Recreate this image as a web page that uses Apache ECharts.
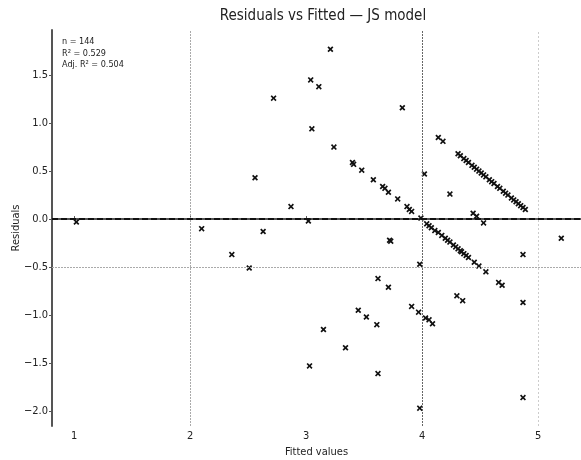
<!DOCTYPE html>
<html>
<head>
<meta charset="utf-8">
<script src="https://cdn.jsdelivr.net/npm/echarts@6/dist/echarts.min.js"></script>
<style>
  html, body { margin: 0; padding: 0; background: #fff; }
  #main { width: 581px; height: 460px; }
</style>
</head>
<body>
<div id="main"></div>
<script>
// fitted values (x) and residuals (y)
var fitted = [
  1.02, 2.10, 2.36, 2.51, 2.56, 2.63, 2.72, 2.87, 3.02, 3.04, 3.05, 3.03, 3.11, 3.15, 3.21, 3.24,
  3.34, 3.40, 3.41, 3.45, 3.48, 3.52, 3.58, 3.61, 3.62, 3.62, 3.66, 3.68, 3.71, 3.71, 3.72, 3.73,
  3.79, 3.83, 3.87, 3.89, 3.91, 3.91, 3.97, 3.98, 3.98, 3.99, 4.02, 4.03, 4.04, 4.06, 4.09, 4.14,
  4.18, 4.24, 4.30, 4.35, 4.44, 4.47, 4.53, 4.87, 4.87, 4.87, 5.20,
  4.06, 4.08, 4.11, 4.14, 4.17, 4.20, 4.22, 4.24, 4.27, 4.29, 4.31, 4.33, 4.34, 4.36, 4.38, 4.40,
  4.45, 4.49, 4.55, 4.66, 4.69,
  4.31, 4.33, 4.36, 4.38, 4.40, 4.43, 4.45, 4.47, 4.49, 4.51, 4.53, 4.55, 4.58, 4.60, 4.62, 4.65,
  4.67, 4.70, 4.72, 4.74, 4.77, 4.79, 4.81, 4.83, 4.85, 4.87, 4.89
];
var residuals = [
  -0.03, -0.10, -0.37, -0.51, 0.43, -0.13, 1.26, 0.13, -0.02, 1.45, 0.94, -1.53, 1.38, -1.15, 1.77, 0.75,
  -1.34, 0.59, 0.57, -0.95, 0.51, -1.02, 0.41, -1.10, -0.62, -1.61, 0.34, 0.32, 0.28, -0.71, -0.22, -0.23,
  0.21, 1.16, 0.13, 0.10, 0.08, -0.91, -0.97, -0.47, -1.97, 0.01, 0.47, -1.03, -0.05, -1.05, -1.09, 0.85,
  0.81, 0.26, -0.80, -0.85, 0.06, 0.03, -0.04, -0.37, -0.87, -1.86, -0.20,
  -0.07, -0.09, -0.12, -0.14, -0.17, -0.20, -0.22, -0.24, -0.27, -0.29, -0.31, -0.33, -0.34, -0.36, -0.38, -0.40,
  -0.45, -0.49, -0.55, -0.66, -0.69,
  0.68, 0.66, 0.63, 0.61, 0.59, 0.56, 0.54, 0.52, 0.50, 0.48, 0.46, 0.44, 0.41, 0.39, 0.37, 0.34,
  0.32, 0.29, 0.27, 0.25, 0.22, 0.20, 0.18, 0.16, 0.14, 0.12, 0.10
];
var xTicks = [1, 2, 3, 4, 5];
var yTicks = [-2, -1.5, -1, -0.5, 0, 0.5, 1, 1.5];
var statsLines = ['n = 144', 'R\u00b2 = 0.529', 'Adj. R\u00b2 = 0.504'];

var points = fitted.map(function (f, i) { return [f, residuals[i]]; });
var font = 'DejaVu Sans Condensed';
// bold "x" marker
var xMark = 'path://M0,2L2,0L5,3L8,0L10,2L7,5L10,8L8,10L5,7L2,10L0,8L3,5Z';

var myChart = echarts.init(document.getElementById('main'));
myChart.setOption({
  backgroundColor: '#fff',
  animation: false,
  title: {
    text: 'Residuals vs Fitted \u2014 JS model',
    left: 318,
    top: 4,
    textAlign: 'center',
    textStyle: { fontFamily: font, fontSize: 15, fontWeight: 'normal', color: '#222' }
  },
  graphic: [{
    type: 'text',
    left: 62,
    top: 36,
    style: {
      text: statsLines.join('\n'),
      font: '9px "' + font + '"',
      lineHeight: 11.5,
      fill: '#222'
    }
  }],
  grid: { left: 52, right: 0, top: 30, bottom: 34, outerBoundsMode: 'none' },
  xAxis: {
    type: 'value',
    min: 0.81,
    max: 5.37,
    name: 'Fitted values',
    nameLocation: 'middle',
    nameGap: 21,
    nameMoveOverlap: false,
    nameTextStyle: { fontFamily: font, fontSize: 11, color: '#222' },
    axisLine: { show: true, lineStyle: { color: '#555', width: 2 } },
    axisTick: { show: true, inside: true, length: 3, customValues: xTicks, lineStyle: { color: '#555' } },
    axisLabel: { customValues: xTicks, fontFamily: font, fontSize: 11, color: '#222', margin: 5 },
    splitLine: { show: false }
  },
  yAxis: {
    type: 'value',
    min: -2.156,
    max: 1.97,
    name: 'Residuals',
    nameLocation: 'middle',
    nameGap: 30,
    nameMoveOverlap: false,
    nameTextStyle: { fontFamily: font, fontSize: 11, color: '#222' },
    axisLine: { show: true, lineStyle: { color: '#555', width: 2 } },
    axisTick: { show: true, length: 3, customValues: yTicks, lineStyle: { color: '#555' } },
    axisLabel: {
      customValues: yTicks, fontFamily: font, fontSize: 11, color: '#222', margin: 4,
      formatter: function (v) { return v.toFixed(1).replace('-', '\u2212'); }
    },
    splitLine: { show: false }
  },
  series: [{
    type: 'scatter',
    data: points,
    symbol: xMark,
    symbolSize: 6,
    itemStyle: { color: '#111', opacity: 1 },
    markLine: {
      silent: true,
      symbol: 'none',
      label: { show: false },
      data: [
        { xAxis: 2, lineStyle: { color: '#aaa', type: [2, 1], width: 1 } },
        { xAxis: 4, lineStyle: { color: '#666', type: [2, 1], width: 1 } },
        { xAxis: 5, lineStyle: { color: '#ccc', type: [2, 2], width: 1 } },
        { yAxis: -0.5, lineStyle: { color: '#aaa', type: [2, 1], width: 1 } },
        { yAxis: 0, lineStyle: { color: '#111', type: [6, 3], width: 2 } }
      ]
    }
  }]
});
</script>
</body>
</html>
